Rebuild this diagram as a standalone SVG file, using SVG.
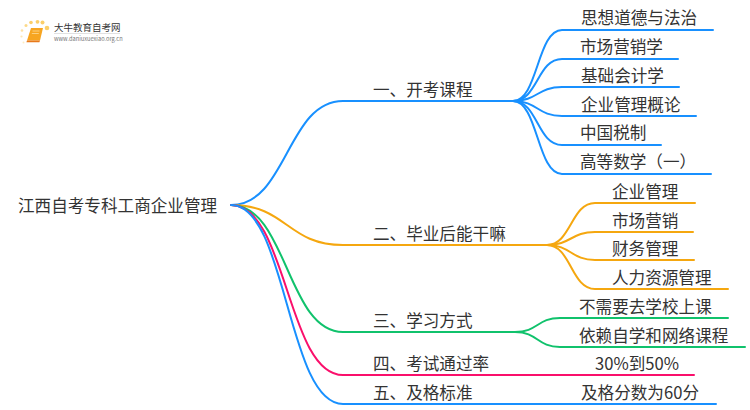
<svg xmlns="http://www.w3.org/2000/svg" width="750" height="410" viewBox="0 0 750 410">
<style>
text{font-family:"Noto Sans CJK SC","Noto Sans",sans-serif;font-size:16.6px;fill:#333}
.c{fill:none;stroke-width:2;stroke-linecap:round}
.b{stroke:#1890ff}.o{stroke:#f5a70f}.g{stroke:#10c26c}.r{stroke:#fa0f6b}
</style>
<rect width="750" height="410" fill="#fff"/>
<g id="logo">
<g fill="#fbcf6a"><circle cx="47" cy="28" r="2.3"/><circle cx="42.500" cy="22.500" r="2"/><circle cx="37.500" cy="21.800" r="1.900"/><circle cx="31" cy="22.500" r="1.800"/><circle cx="26" cy="25.500" r="1.500" opacity=".8"/><circle cx="22" cy="30.500" r="1.300" opacity=".6"/><circle cx="21.500" cy="36.500" r="1.100" opacity=".5"/><circle cx="23.500" cy="42.500" r="1" opacity=".4"/></g>
<path d="M31 28h12l-3 12.500h-13z" fill="#f7a521"/><path d="M27 40.500h13l-.6 1.800h-13z" fill="#e8791a"/><path d="M32.500 31h7M31.800 33.500h7" stroke="#fde3a8" stroke-width=".7" fill="none"/>
<text x="54" y="31" style="font-size:9.500px" fill="#444">大牛教育自考网</text>
<path d="M54 33.500h66" stroke="#ccc" stroke-width=".6"/>
<text x="54" y="41" style="font-size:5.700px;fill:#777">www.daniuxuexiao.org.cn</text>
</g>
<g id="connectors">
<path class="c b" d="M231 205C287 205 287 101 343 101H513"/>
<path class="c o" d="M231 205C287 205 287 245 343 245H547"/>
<path class="c g" d="M231 205C287 205 287 332 343 332H515"/>
<path class="c r" d="M231 205C287 205 287 375 343 375H694"/>
<path class="c b" d="M231 205C287 205 287 404 343 404H716"/>
<path class="c b" d="M513 101C538 101 537 30 562 30H713"/>
<path class="c b" d="M513 101C538 101 537 59 562 59H678"/>
<path class="c b" d="M513 101C538 101 537 87 562 87H679"/>
<path class="c b" d="M513 101C538 101 537 116 562 116H696"/>
<path class="c b" d="M513 101C538 101 537 145 562 145H661"/>
<path class="c b" d="M513 101C538 101 537 174 562 174H711"/>
<path class="c o" d="M547 245C571 245 571 203 595 203H695"/>
<path class="c o" d="M547 245C571 245 571 232 595 232H693"/>
<path class="c o" d="M547 245C571 245 571 260 595 260H694"/>
<path class="c o" d="M547 245C571 245 571 289 595 289H728"/>
<path class="c g" d="M515 332C538 332 537 318 560 318H728"/>
<path class="c g" d="M515 332C538 332 537 347 560 347H745"/>
</g>
<g id="root"><text x="18" y="212">江西自考专科工商企业管理</text></g>
<g id="n1"><text x="373" y="96">一、开考课程</text></g>
<g id="n2"><text x="373" y="240">二、毕业后能干嘛</text></g>
<g id="n3"><text x="373" y="327">三、学习方式</text></g>
<g id="n4"><text x="373" y="370">四、考试通过率</text></g>
<g id="n5"><text x="373" y="399">五、及格标准</text></g>
<g id="n1-1"><text x="581" y="24">思想道德与法治</text></g>
<g id="n1-2"><text x="580" y="53">市场营销学</text></g>
<g id="n1-3"><text x="581" y="82">基础会计学</text></g>
<g id="n1-4"><text x="581" y="111">企业管理概论</text></g>
<g id="n1-5"><text x="580" y="139">中国税制</text></g>
<g id="n1-6"><text x="580" y="168">高等数学（一）</text></g>
<g id="n2-1"><text x="612" y="198">企业管理</text></g>
<g id="n2-2"><text x="612" y="227">市场营销</text></g>
<g id="n2-3"><text x="612" y="255">财务管理</text></g>
<g id="n2-4"><text x="612" y="284">人力资源管理</text></g>
<g id="n3-1"><text x="579" y="313">不需要去学校上课</text></g>
<g id="n3-2"><text x="579" y="342">依赖自学和网络课程</text></g>
<g id="n4-1"><text x="595" y="370">30%到50%</text></g>
<g id="n5-1"><text x="581" y="399">及格分数为60分</text></g>
</svg>
